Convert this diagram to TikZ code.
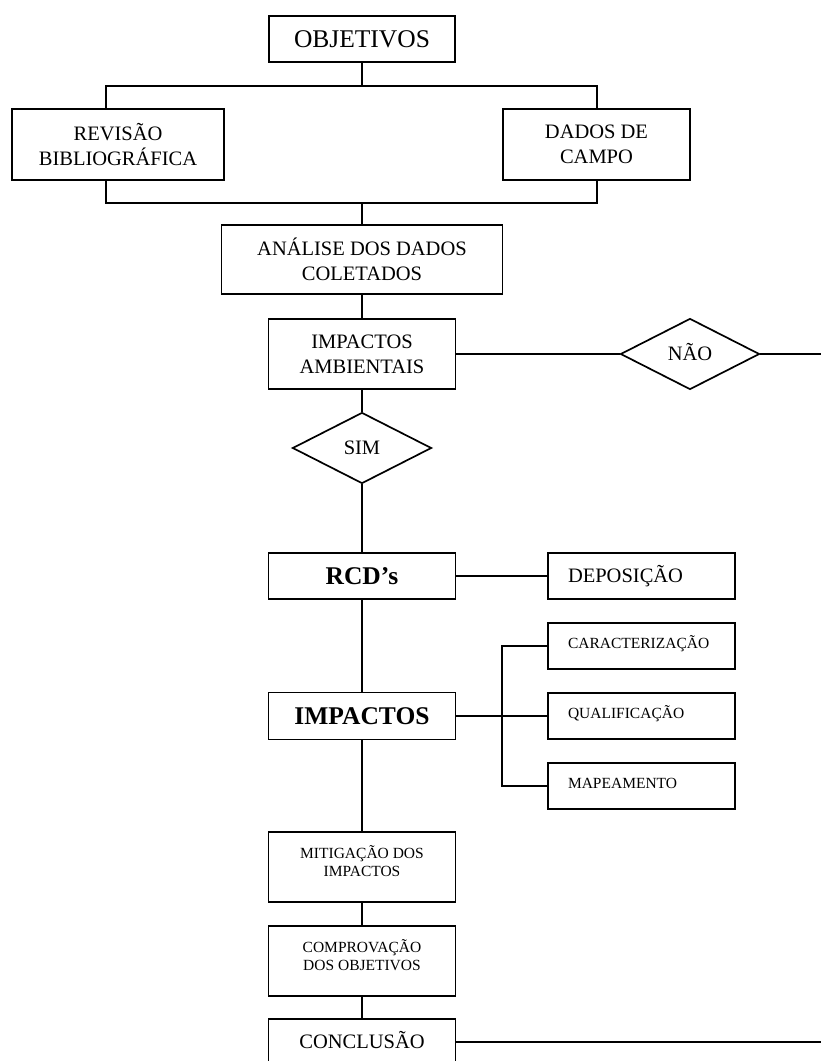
\documentclass[tikz,border=0pt]{standalone}
\usepackage{fontspec}
\setmainfont{Liberation Serif}
\usepackage{tikz}
\usetikzlibrary{shapes.geometric}

\newcommand{\fgrande}{\fontsize{25.5pt}{30pt}\selectfont}
\newcommand{\fmedia}{\fontsize{20.5pt}{25pt}\selectfont}
\newcommand{\fpequena}{\fontsize{15.5pt}{17.5pt}\selectfont}
\newcommand{\folga}{\rule[-12pt]{0pt}{0pt}}

\begin{document}
\begin{tikzpicture}[x=1pt,y=-1pt,
        caixa/.style={draw,line width=1.9pt,inner sep=0pt,align=center,font=\fmedia,minimum width=187pt,minimum height=70pt},
        lateral/.style={caixa,minimum height=46pt,text width=147pt,inner xsep=20pt,align=left,font=\fpequena,text height=10.3pt,text depth=6pt},
        losango/.style={diamond,draw,line width=1.7pt,inner sep=0pt,minimum width=139pt,minimum height=71pt,font=\fmedia,text height=13.6pt,text depth=0pt},
        liga/.style={line width=1.5pt}]
\useasboundingbox (0,0) rectangle (821,1061);

\node[caixa,font=\fgrande,minimum width=186pt,minimum height=46pt,text height=17pt,text depth=0pt] (obj) at (362,39) {OBJETIVOS};
\node[caixa,minimum width=212pt,minimum height=71pt] (rev) at (118,144.5) {REVISÃO\\BIBLIOGRÁFICA};
\node[caixa,minimum height=71pt] (dad) at (596.5,144.5) {DADOS DE\\CAMPO};
\node[caixa,minimum width=281pt,minimum height=69pt] (ana) at (362,259.5) {ANÁLISE DOS DADOS\\COLETADOS};
\node[caixa] (amb) at (362,354) {IMPACTOS\\AMBIENTAIS};
\node[losango] (sim) at (362,448) {SIM};
\node[losango] (nao) at (690,354) {NÃO};

\node[caixa,minimum height=46pt,font=\fgrande\bfseries,text height=17.2pt,text depth=0pt] (rcd) at (362,576) {RCD’s};
\node[lateral,font=\fmedia,text height=13.6pt,text depth=0pt] (dep) at (641.5,576) {DEPOSIÇÃO};
\foreach \nome/\texto/\y in {car/CARACTERIZAÇÃO/646,qua/QUALIFICAÇÃO/716,map/MAPEAMENTO/786}
{
        \node[lateral] (\nome) at (641.5,\y) {\texto};
}
\node[caixa,minimum height=47pt,font=\fgrande\bfseries,text height=17.2pt,text depth=0pt] (imp) at (362,716) {IMPACTOS};

\node[caixa,font=\fpequena] (mit) at (362,867) {MITIGAÇÃO DOS\\IMPACTOS\folga};
\node[caixa,font=\fpequena] (com) at (362,961) {COMPROVAÇÃO\\DOS OBJETIVOS\folga};
\node[caixa,minimum height=46pt,text height=13.6pt,text depth=0pt] (con) at (362,1042) {CONCLUSÃO};

% barras e saidas
\coordinate (r1) at (106,86);
\coordinate (d1) at (597,86);
\coordinate (r2) at (106,203);
\coordinate (d2) at (597,203);
\coordinate (chave) at (502,716);
\coordinate (fimN) at (821,354);
\coordinate (fimC) at (821,1042);

\draw[liga] (obj) -- (obj |- r1);
\draw[liga] (rev.north -| r1) -- (r1) -- (d1) -- (dad.north -| d1);
\draw[liga] (rev.south -| r2) -- (r2) -- (d2) -- (dad.south -| d2);
\draw[liga] (ana) -- (ana |- r2);
\draw[liga] (ana) -- (amb) (amb) -- (nao) (nao) -- (fimN)
(amb) -- (sim) (sim) -- (rcd) (rcd) -- (dep) (rcd) -- (imp)
(imp) -- (qua) (imp) -- (mit) (mit) -- (com) (com) -- (con) (con) -- (fimC);
\draw[liga] (car) -- (car -| chave) -- (map -| chave) -- (map);
\end{tikzpicture}
\end{document}
